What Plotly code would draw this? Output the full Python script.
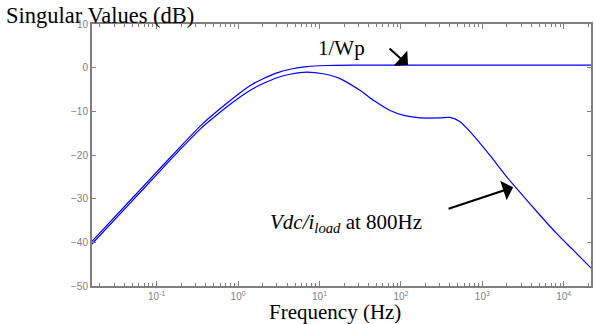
import plotly.graph_objects as go

# Curve 1: 1/Wp (Hz, dB)
wp_freq = [0.016, 0.05, 0.1, 0.2, 0.35, 0.55, 0.8, 1.1, 1.5, 2.0, 3.0, 4.5, 7.0, 12, 25, 100, 1000, 5000, 21700]
wp_db = [-39.8, -29.9, -23.9, -17.9, -13.2, -10.0, -7.5, -5.5, -3.8, -2.6, -1.2, -0.3, 0.25, 0.5, 0.6,
         0.6, 0.6, 0.6, 0.6]

# Curve 2: Vdc/iload at 800Hz (Hz, dB)
vdc_freq = [0.016, 0.05, 0.1, 0.2, 0.35, 0.55, 0.8, 1.1, 1.5, 2.0, 3.0, 4.35, 7.0, 11.1, 17.9, 31.4, 48,
            73.5, 112, 172, 302, 401, 532, 776, 1242, 1995, 2649, 5117, 8204, 13121, 21700]
vdc_db = [-40.4, -30.5, -24.5, -18.5, -13.9, -10.8, -8.4, -6.5, -4.9, -3.7, -2.3, -1.5, -1.0, -1.4, -2.5,
          -5.2, -7.7, -9.8, -11.0, -11.5, -11.5, -11.4, -12.4, -15.5, -20.1, -25.0, -27.7, -33.8,
          -38.0, -41.8, -45.9]

x_major = [0.1, 1, 10, 100, 1000, 10000]
x_major_text = ["10<sup>-1</sup>", "10<sup>0</sup>", "10<sup>1</sup>", "10<sup>2</sup>",
                "10<sup>3</sup>", "10<sup>4</sup>"]
y_ticks = [10, 0, -10, -20, -30, -40, -50]

minor_vals = [m * 10 ** e for e in range(-2, 5) for m in range(2, 10)]

fig = go.Figure()
fig.add_trace(go.Scatter(x=wp_freq, y=wp_db, mode="lines",
                         line=dict(color="#0000ff", width=1.2, shape="spline", smoothing=0.6),
                         showlegend=False))
fig.add_trace(go.Scatter(x=vdc_freq, y=vdc_db, mode="lines",
                         line=dict(color="#0000ff", width=1.2, shape="spline", smoothing=0.6),
                         showlegend=False))

axis_color = "#7f7f7f"
tick_font = dict(family="Liberation Sans", size=10, color="#808080")

fig.update_xaxes(type="log", range=[-1.795, 4.335], automargin=False,
                 tickvals=x_major, ticktext=x_major_text,
                 ticks="inside", ticklen=5, tickcolor=axis_color, tickwidth=1,
                 showline=True, linecolor=axis_color, linewidth=2, mirror="ticks",
                 showgrid=False, zeroline=False, tickfont=tick_font,
                 minor=dict(tickvals=minor_vals, ticks="inside", ticklen=3,
                            tickcolor=axis_color, showgrid=False))
fig.update_yaxes(range=[-50, 10], tickvals=y_ticks, automargin=False,
                 ticks="inside", ticklen=4, tickcolor=axis_color, tickwidth=1,
                 showline=True, linecolor=axis_color, linewidth=2, mirror="ticks",
                 showgrid=False, zeroline=False, tickfont=tick_font)

serif = "Liberation Serif"
fig.add_annotation(text="Singular Values (dB)", xref="paper", yref="paper",
                   x=-88 / 499, y=1.034, xanchor="left", yanchor="middle", showarrow=False,
                   font=dict(family=serif, size=22.5, color="black"))
fig.add_annotation(text="Frequency (Hz)", xref="paper", yref="paper",
                   x=0.487, y=-0.099, xanchor="center", yanchor="middle", showarrow=False,
                   font=dict(family=serif, size=21, color="black"))
fig.add_annotation(text="1/Wp", xref="paper", yref="paper",
                   x=0.5, y=0.908, xanchor="center", yanchor="middle", showarrow=False,
                   font=dict(family=serif, size=21, color="black"))
fig.add_annotation(text="<i>Vdc/i<sub>load</sub></i> at 800Hz", xref="paper", yref="paper",
                   x=0.51, y=0.24, xanchor="center", yanchor="middle", showarrow=False,
                   font=dict(family=serif, size=21, color="black"))

# arrows (x in log10 units for log axis)
fig.add_annotation(x=2.087, y=0.6, xref="x", yref="y", text="", showarrow=True,
                   ax=-20, ay=-18, arrowhead=1, arrowsize=1.7, arrowwidth=2, arrowcolor="black")
fig.add_annotation(x=3.378, y=-27.4, xref="x", yref="y", text="", showarrow=True,
                   ax=-66, ay=22, arrowhead=1, arrowsize=1.7, arrowwidth=2, arrowcolor="black")

fig.update_layout(width=594, height=324, margin=dict(l=92, r=3, t=24, b=38),
                  paper_bgcolor="white", plot_bgcolor="white")

# remove the browser's default 8px body margin so the figure fills the window exactly
fig.write_html("out.html", config={"displayModeBar": False},
               post_script="document.body.style.margin='0';document.body.style.overflow='hidden';")
